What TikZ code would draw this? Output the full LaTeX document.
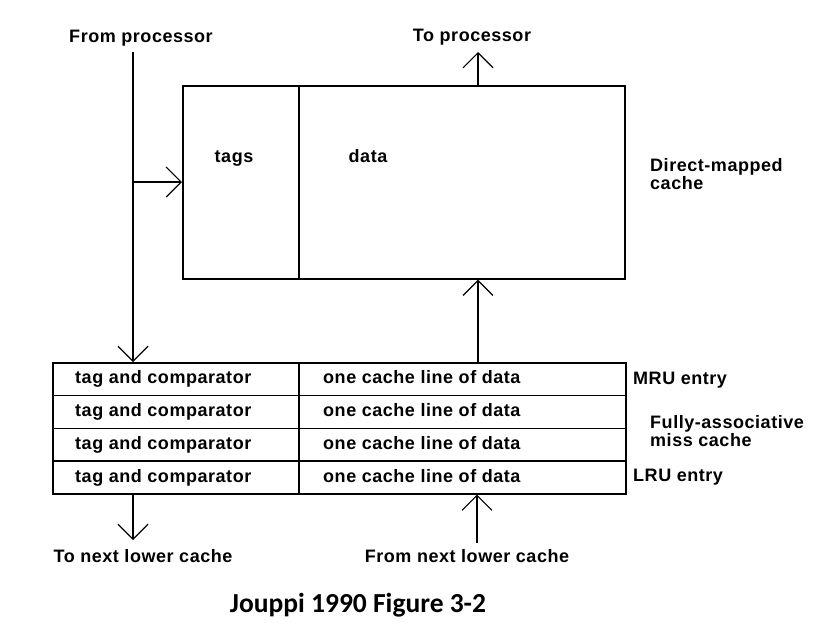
\documentclass[tikz,border=0pt]{standalone}
\usepackage{fontspec}
\setmainfont{Liberation Sans}
\newfontfamily\capfont{Carlito}
\newfontfamily\lblfont[LetterSpace=3]{Liberation Sans}
\usetikzlibrary{arrows.meta,calc}
\tikzset{
  boxline/.style={line width=1.6pt},
  cell/.style={draw, line width=1.5pt, anchor=north west, inner sep=0pt, minimum height=32.75pt},
  lbl/.style={font=\lblfont\fontsize{18}{20}\selectfont\bfseries, inner sep=0pt, text height=13pt, text depth=3.5pt},
  lbl2/.style={font=\lblfont\fontsize{18}{20}\selectfont\bfseries, inner sep=0pt},
  flow/.style={line width=1.2pt, -{Straight Barb[length=15pt,width=30pt,line width=1.2pt]}},
  plain/.style={line width=1.2pt}
}
\begin{document}
\begin{tikzpicture}[x=1pt,y=-1pt]
\useasboundingbox (0,0) rectangle (817,622);
% direct-mapped cache
\node[draw, boxline, anchor=north west, inner sep=0pt, minimum width=116pt, minimum height=193pt] (dmtag) at (182,85) {};
\node[draw, boxline, anchor=north west, inner sep=0pt, minimum width=326pt, minimum height=193pt] (dmdata) at (298,85) {};
\node[lbl] (tags) at (234,158) {tags};
\node[lbl] (data) at (368,158) {data};
\node[lbl2, anchor=west, align=left] (dmlabel) at (650,174) {Direct-mapped\\[-2pt]cache};
% miss cache rows
\foreach \i/\y in {1/362,2/394.75,3/427.5,4/460.25}{
  \node[cell, minimum width=246pt] (t\i) at (52,\y) {};
  \node[cell, minimum width=327pt] (d\i) at (298,\y) {};
  \node[lbl, anchor=west] (tt\i) at ($(t\i.west)+(23,0)$) {tag and comparator};
  \node[lbl, anchor=west] (dt\i) at ($(d\i.west)+(25,0)$) {one cache line of data};
}
\node[lbl, anchor=west] (mru) at (633,380) {MRU entry};
\node[lbl2, anchor=west, align=left] (fa) at (650,431) {Fully-associative\\[-2pt]miss cache};
\node[lbl, anchor=west] (lru) at (633,477) {LRU entry};
% outer labels
\node[lbl] (fromproc) at (141,38) {From processor};
\node[lbl] (toproc) at (472,37) {To processor};
\node[lbl] (tolower) at (143,558) {To next lower cache};
\node[lbl] (fromlower) at (467,558) {From next lower cache};
\node[font=\capfont\fontsize{27.5}{30}\selectfont\bfseries, inner sep=0pt] (caption) at (358,605) {Jouppi 1990 Figure 3-2};
% connectors
\coordinate (fpstart) at (133,52);
\coordinate (branch) at (133,182);
\coordinate (tpend) at (478,52);
\coordinate (tlend) at (133,540);
\coordinate (flstart) at (477,543);
\draw[flow] (fpstart) -- (fpstart |- t1.north);
\draw[flow] (branch) -- (branch -| dmtag.west);
\draw[flow] (tpend |- dmdata.north) -- (tpend);
\draw[flow] (tpend |- d1.north) -- (tpend |- dmdata.south);
\draw[flow] (tlend |- t4.south) -- (tlend);
\draw[flow] (flstart) -- (flstart |- d4.south);
\end{tikzpicture}
\end{document}
